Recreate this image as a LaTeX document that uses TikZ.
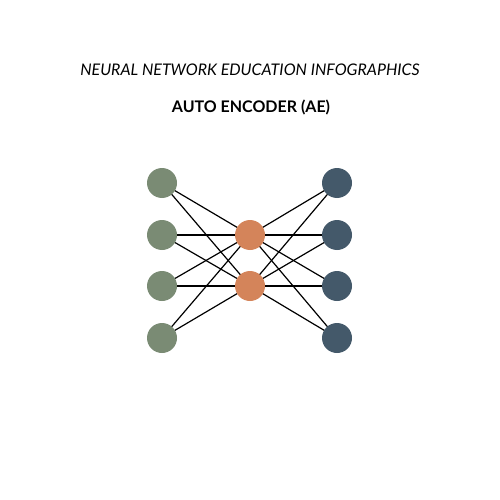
\documentclass[tikz,border=0pt]{standalone}
\usepackage{fontspec}
\setmainfont{Lato}
\definecolor{ingreen}{HTML}{7A8B74}
\definecolor{midorange}{HTML}{D4845A}
\definecolor{outblue}{HTML}{44596A}
\begin{document}
\begin{tikzpicture}[x=1pt,y=-1pt,
  neuron/.style={circle,minimum size=30pt,inner sep=0pt},
  inn/.style={neuron,fill=ingreen},
  mid/.style={neuron,fill=midorange},
  outn/.style={neuron,fill=outblue},
  link/.style={line width=1.2pt,black}]
\useasboundingbox (0,0) rectangle (500,500);
\node[font=\fontsize{16}{19}\selectfont\itshape] (t1) at (250,70) {NEURAL NETWORK EDUCATION INFOGRAPHICS};
\node[font=\fontsize{16}{19}\selectfont\bfseries] (t2) at (251,107) {AUTO ENCODER (AE)};
\foreach \i/\y in {1/183,2/235,3/286,4/338}{
  \coordinate (a\i) at (162,\y);
  \coordinate (c\i) at (337,\y);
}
\coordinate (b1) at (250,235);
\coordinate (b2) at (250,286);
\foreach \i in {1,...,4}{
  \foreach \j in {1,2}{
    \draw[link] (a\i) -- (b\j);
    \draw[link] (b\j) -- (c\i);
  }
}
\foreach \i in {1,...,4}{
  \node[inn] (L\i) at (a\i) {};
  \node[outn] (R\i) at (c\i) {};
}
\node[mid] (M1) at (b1) {};
\node[mid] (M2) at (b2) {};
\end{tikzpicture}
\end{document}
